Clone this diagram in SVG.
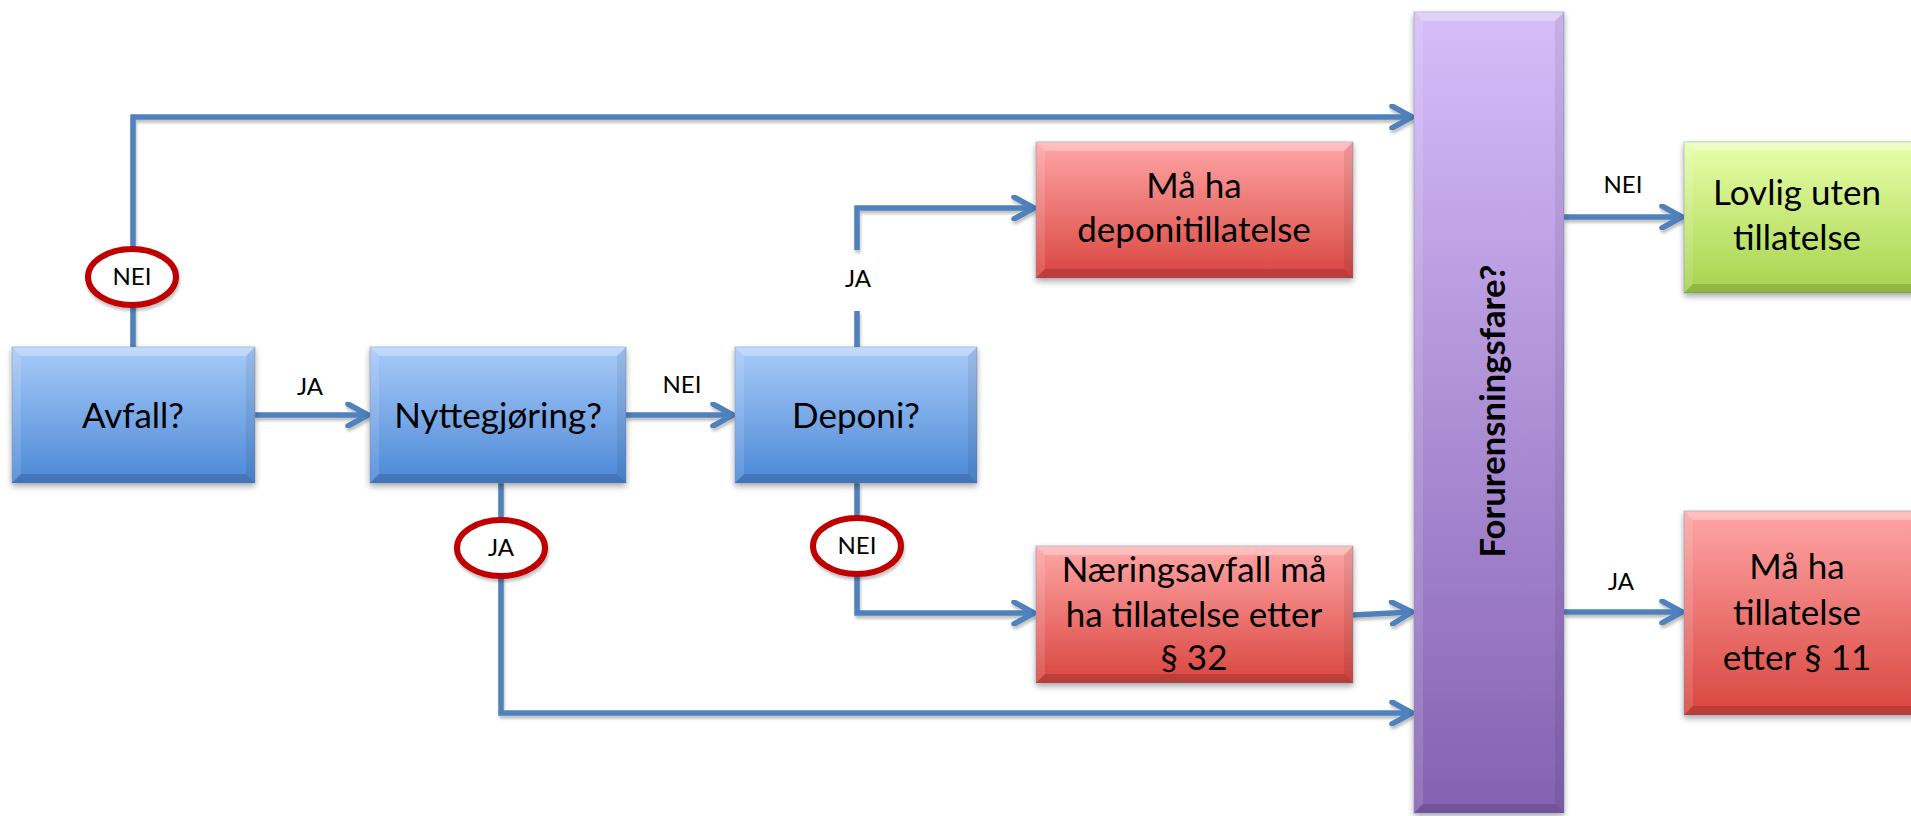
<svg xmlns="http://www.w3.org/2000/svg" width="1911" height="816" viewBox="0 0 1911 816">
<defs>
<linearGradient id="gBlue" x1="0" y1="0" x2="0" y2="1"><stop offset="0" stop-color="#a9cbf9"/><stop offset="1" stop-color="#4b88d6"/></linearGradient>
<linearGradient id="gRed" x1="0" y1="0" x2="0" y2="1"><stop offset="0" stop-color="#ffa6a6"/><stop offset="1" stop-color="#d9453f"/></linearGradient>
<linearGradient id="gGreen" x1="0" y1="0" x2="0" y2="1"><stop offset="0" stop-color="#e9ffaa"/><stop offset="1" stop-color="#a6d34c"/></linearGradient>
<linearGradient id="gPurple" x1="0" y1="0" x2="0" y2="1"><stop offset="0" stop-color="#d6bdf9"/><stop offset="1" stop-color="#8561b2"/></linearGradient>
<filter id="sh" x="-10%" y="-10%" width="120%" height="130%"><feGaussianBlur in="SourceAlpha" stdDeviation="3"/><feOffset dx="0" dy="3" result="b"/><feComponentTransfer><feFuncA type="linear" slope="0.35"/></feComponentTransfer><feMerge><feMergeNode/><feMergeNode in="SourceGraphic"/></feMerge></filter>
<filter id="lsh" x="-5%" y="-5%" width="110%" height="110%"><feGaussianBlur in="SourceAlpha" stdDeviation="1.5"/><feOffset dx="1" dy="3" result="b"/><feComponentTransfer><feFuncA type="linear" slope="0.25"/></feComponentTransfer><feMerge><feMergeNode/><feMergeNode in="SourceGraphic"/></feMerge></filter>
<marker id="arr" markerUnits="userSpaceOnUse" viewBox="0 0 26 26" markerWidth="26" markerHeight="26" refX="23" refY="13" orient="auto"><path d="M3,2 L23,13 L3,24" fill="none" stroke="#4f81bd" stroke-width="5.5" stroke-linecap="round" stroke-linejoin="round"/></marker>
</defs>
<style>
.box{stroke:#6a7f9c;stroke-opacity:0.45;stroke-width:1}
.bt{fill:#ffffff;opacity:0.3}
.bb{fill:#000000;opacity:0.14}
.bl{fill:#ffffff;opacity:0.12}
.br{fill:#000000;opacity:0.07}
.t{font-family:Lato,"Liberation Sans",sans-serif;font-size:35px;fill:#000;text-anchor:middle}
.lbl{font-family:Lato,"Liberation Sans",sans-serif;font-size:24px;fill:#000;text-anchor:middle}
.ttl{font-family:Lato,"Liberation Sans",sans-serif;font-size:35px;font-weight:bold;fill:#000;text-anchor:middle}
.c{fill:none;stroke:#4f81bd;stroke-width:5.5}
.ca{fill:none;stroke:#4f81bd;stroke-width:5.5;marker-end:url(#arr)}
.ov{fill:#fff;stroke:#c00000;stroke-width:6}
</style>
<rect width="1911" height="816" fill="#fff"/>

<g id="connectors" filter="url(#lsh)">
<path class="ca" d="M255,415 H368"/>
<path class="ca" d="M625,415 H733"/>
<path class="ca" d="M133,347 V117 H1412"/>
<path class="c" d="M857,347 V311"/>
<path class="ca" d="M857,250 V208 H1034"/>
<path class="ca" d="M857,483 V613 H1034"/>
<path class="ca" d="M501,483 V713 H1412"/>
<path class="ca" d="M1353,615 L1412,612"/>
<path class="ca" d="M1564,217 H1682"/>
<path class="ca" d="M1564,612 H1682"/>
</g>

<g id="node-avfall">
<rect class="box" x="12" y="347" width="243" height="136" fill="url(#gBlue)" filter="url(#sh)"/>
<polygon class="bt" points="12,347 255,347 246,356 21,356"/>
<polygon class="bb" points="12,483 255,483 246,474 21,474"/>
<polygon class="bl" points="12,347 21,356 21,474 12,483"/>
<polygon class="br" points="255,347 246,356 246,474 255,483"/>
<text class="t" x="133" y="428">Avfall?</text>
</g>

<g id="node-nyttegjoring">
<rect class="box" x="370" y="347" width="256" height="136" fill="url(#gBlue)" filter="url(#sh)"/>
<polygon class="bt" points="370,347 626,347 617,356 379,356"/>
<polygon class="bb" points="370,483 626,483 617,474 379,474"/>
<polygon class="bl" points="370,347 379,356 379,474 370,483"/>
<polygon class="br" points="626,347 617,356 617,474 626,483"/>
<text class="t" x="498" y="428">Nyttegjøring?</text>
</g>

<g id="node-deponi">
<rect class="box" x="735" y="347" width="242" height="136" fill="url(#gBlue)" filter="url(#sh)"/>
<polygon class="bt" points="735,347 977,347 968,356 744,356"/>
<polygon class="bb" points="735,483 977,483 968,474 744,474"/>
<polygon class="bl" points="735,347 744,356 744,474 735,483"/>
<polygon class="br" points="977,347 968,356 968,474 977,483"/>
<text class="t" x="856" y="428">Deponi?</text>
</g>

<g id="node-deponitillatelse">
<rect class="box" x="1036" y="142" width="317" height="136" fill="url(#gRed)" filter="url(#sh)"/>
<polygon class="bt" points="1036,142 1353,142 1344,151 1045,151"/>
<polygon class="bb" points="1036,278 1353,278 1344,269 1045,269"/>
<polygon class="bl" points="1036,142 1045,151 1045,269 1036,278"/>
<polygon class="br" points="1353,142 1344,151 1344,269 1353,278"/>
<text class="t" x="1194" y="198">Må ha</text>
<text class="t" x="1194" y="242">deponitillatelse</text>
</g>

<g id="node-naeringsavfall">
<rect class="box" x="1036" y="546" width="317" height="137" fill="url(#gRed)" filter="url(#sh)"/>
<polygon class="bt" points="1036,546 1353,546 1344,555 1045,555"/>
<polygon class="bb" points="1036,683 1353,683 1344,674 1045,674"/>
<polygon class="bl" points="1036,546 1045,555 1045,674 1036,683"/>
<polygon class="br" points="1353,546 1344,555 1344,674 1353,683"/>
<text class="t" x="1194" y="582">Næringsavfall må</text>
<text class="t" x="1194" y="627">ha tillatelse etter</text>
<text class="t" x="1194" y="670">§ 32</text>
</g>

<g id="node-forurensningsfare">
<rect class="box" x="1414" y="12" width="150" height="801" fill="url(#gPurple)" filter="url(#sh)"/>
<polygon class="bt" points="1414,12 1564,12 1555,21 1423,21"/>
<polygon class="bb" points="1414,813 1564,813 1555,804 1423,804"/>
<polygon class="bl" points="1414,12 1423,21 1423,804 1414,813"/>
<polygon class="br" points="1564,12 1555,21 1555,804 1564,813"/>
<text class="ttl" transform="translate(1505,411) rotate(-90)" x="0" y="0" textLength="293" lengthAdjust="spacingAndGlyphs">Forurensningsfare?</text>
</g>

<g id="node-lovlig">
<rect class="box" x="1684" y="142" width="240" height="151" fill="url(#gGreen)" filter="url(#sh)"/>
<polygon class="bt" points="1684,142 1924,142 1915,151 1693,151"/>
<polygon class="bb" points="1684,293 1924,293 1915,284 1693,284"/>
<polygon class="bl" points="1684,142 1693,151 1693,284 1684,293"/>
<text class="t" x="1797" y="205">Lovlig uten</text>
<text class="t" x="1797" y="250">tillatelse</text>
</g>

<g id="node-tillatelse11">
<rect class="box" x="1684" y="511" width="240" height="204" fill="url(#gRed)" filter="url(#sh)"/>
<polygon class="bt" points="1684,511 1924,511 1915,520 1693,520"/>
<polygon class="bb" points="1684,715 1924,715 1915,706 1693,706"/>
<polygon class="bl" points="1684,511 1693,520 1693,706 1684,715"/>
<text class="t" x="1797" y="579">Må ha</text>
<text class="t" x="1797" y="625">tillatelse</text>
<text class="t" x="1797" y="670">etter § 11</text>
</g>

<g id="labels">
<text class="lbl" x="310" y="395">JA</text>
<text class="lbl" x="682" y="393">NEI</text>
<text class="lbl" x="858" y="287">JA</text>
<text class="lbl" x="1623" y="193">NEI</text>
<text class="lbl" x="1621" y="590">JA</text>
<g filter="url(#lsh)">
<ellipse class="ov" cx="132" cy="277" rx="44" ry="28"/>
<ellipse class="ov" cx="501" cy="548" rx="44" ry="28"/>
<ellipse class="ov" cx="857" cy="546" rx="44" ry="28"/>
</g>
<text class="lbl" x="132" y="285">NEI</text>
<text class="lbl" x="501" y="556">JA</text>
<text class="lbl" x="857" y="554">NEI</text>
</g>
</svg>
